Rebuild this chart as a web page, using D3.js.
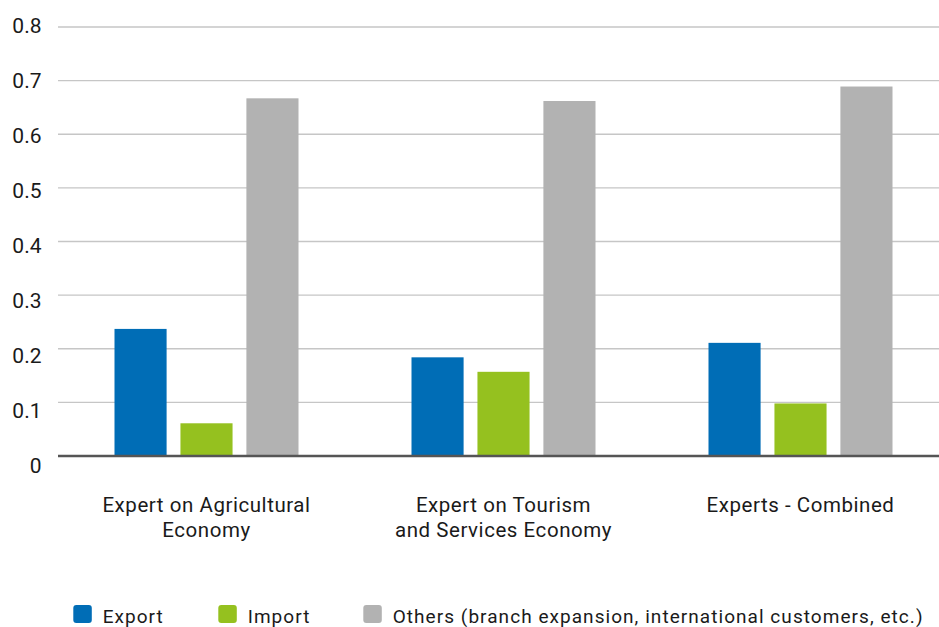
<!DOCTYPE html>
<html>
<head>
<meta charset="utf-8">
<script src="https://cdn.jsdelivr.net/npm/d3@7"></script>
<style>
  body { margin: 0; background: #fff; }
  svg text { font-family: Roboto, "Noto Sans", sans-serif; fill: #1a1a1a; }
</style>
</head>
<body>
<svg id="chart" width="939" height="627"></svg>
<script>
// data
var categories = [
    ['Expert on Agricultural', 'Economy'],
    ['Expert on Tourism', 'and Services Economy'],
    ['Experts - Combined']
];
var seriesNames = ['Export', 'Import', 'Others (branch expansion, international customers, etc.)'];
var exportValues = [0.237, 0.184, 0.211];
var importValues = [0.061, 0.157, 0.098];
var othersValues = [0.667, 0.662, 0.689];
var yTicks = [0, 0.1, 0.2, 0.3, 0.4, 0.5, 0.6, 0.7, 0.8];
var tickLabels = ['0', '0.1', '0.2', '0.3', '0.4', '0.5', '0.6', '0.7', '0.8'];

var colors = ['#006db6', '#95c11f', '#b2b2b2'];
var seriesValues = [exportValues, importValues, othersValues];

var svg = d3.select('#chart');

var x0 = d3.scaleBand()
    .domain(d3.range(categories.length))
    .range([58, 949]);

var x1 = d3.scaleBand()
    .domain(d3.range(seriesNames.length))
    .range([-92, 92])
    .paddingInner(0.21);

var y = d3.scaleLinear()
    .domain([0, 0.8])
    .range([456, 27]);

// labels sit slightly off the grid in the original
var yLabel = d3.scaleLinear()
    .domain([0, 0.8])
    .range([465.5, 25.3]);

// gridlines
svg.append('g')
    .selectAll('line')
    .data(yTicks.slice(1))
    .enter()
    .append('line')
    .attr('x1', 58)
    .attr('x2', 939)
    .attr('y1', function(d) { return y(d); })
    .attr('y2', function(d) { return y(d); })
    .style('stroke', '#c6c6c6')
    .style('stroke-width', 1.3);

// tick labels
svg.append('g')
    .selectAll('text')
    .data(yTicks)
    .enter()
    .append('text')
    .attr('x', 41.5)
    .attr('y', function(d) { return yLabel(d); })
    .attr('dy', '0.35em')
    .attr('text-anchor', 'end')
    .attr('font-size', '21px')
    .text(function(d, i) { return tickLabels[i]; });

// bars
var groups = svg.append('g')
    .selectAll('g')
    .data(categories)
    .enter()
    .append('g')
    .attr('transform', function(d, i) { return 'translate(' + (x0(i) + x0.bandwidth() / 2) + ',0)'; });

groups.selectAll('rect')
    .data(function(d, i) { return seriesValues.map(function(s, j) { return { s: j, v: s[i] }; }); })
    .enter()
    .append('rect')
    .attr('x', function(d) { return x1(d.s); })
    .attr('width', x1.bandwidth())
    .attr('y', function(d) { return y(d.v); })
    .attr('height', function(d) { return y(0) - y(d.v); })
    .style('fill', function(d) { return colors[d.s]; });

// baseline
svg.append('line')
    .attr('x1', 58)
    .attr('x2', 939)
    .attr('y1', y(0))
    .attr('y2', y(0))
    .style('stroke', '#555')
    .style('stroke-width', 2.5);

// category labels
groups.append('text')
    .attr('text-anchor', 'middle')
    .attr('font-size', '20.5px')
    .style('letter-spacing', '0.55px')
    .selectAll('tspan')
    .data(function(d) { return d; })
    .enter()
    .append('tspan')
    .attr('x', 0)
    .attr('y', function(d, i) { return 512.3 + i * 24.5; })
    .text(function(d) { return d; });

// legend
var legendX = [73.3, 218.3, 363.3];
var legend = svg.append('g')
    .selectAll('g')
    .data(seriesNames)
    .enter()
    .append('g')
    .attr('transform', function(d, i) { return 'translate(' + legendX[i] + ',605)'; });

legend.append('rect')
    .attr('width', 18.5)
    .attr('height', 18)
    .attr('rx', 3)
    .style('fill', function(d, i) { return colors[i]; });

legend.append('text')
    .attr('x', 29.4)
    .attr('y', 18.3)
    .attr('font-size', '19px')
    .style('letter-spacing', '1.05px')
    .text(function(d) { return d; });
</script>
</body>
</html>
